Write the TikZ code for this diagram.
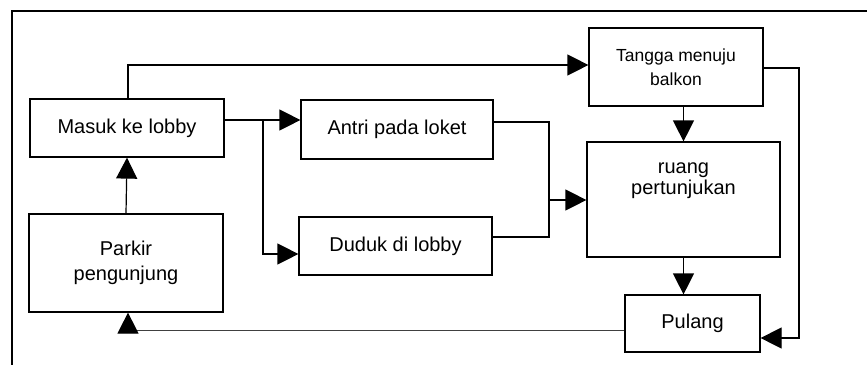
\documentclass[tikz,border=0pt]{standalone}
\usepackage{fontspec}
\setmainfont{Liberation Sans}
\usetikzlibrary{arrows.meta}
\begin{document}
\begin{tikzpicture}[x=1pt,y=-1pt,
  box/.style={draw,line width=1.2pt,inner sep=0pt,align=center,font=\fontsize{20}{25}\selectfont},
  smallbox/.style={box,font=\fontsize{17.5}{24}\selectfont},
  conn/.style={line width=1.2pt},
  arr/.style={conn,-{Triangle[length=21pt,width=21pt]}},
  faint/.style={line width=0.9pt,black!75}]
\useasboundingbox (0,0) rectangle (867,365);
\draw[line width=1.1pt] (867,11) -- (12,11) -- (12,365);
% boxes
\node[box,minimum width=194pt,minimum height=58pt] (masuk) at (127,128) {Masuk ke lobby};
\node[box,minimum width=194pt,minimum height=98pt] (parkir) at (126,263) {Parkir\\pengunjung};
\node[box,minimum width=192pt,minimum height=59pt] (antri) at (397,129.5) {Antri pada loket};
\node[box,minimum width=193pt,minimum height=58pt] (duduk) at (395.5,246) {Duduk di lobby};
\node[smallbox,minimum width=174pt,minimum height=78pt] (tangga) at (676,67) {Tangga menuju\\balkon};
\node[box,minimum width=193pt,minimum height=115pt] (ruang) at (683.5,199.5) {};
\node[font=\fontsize{20}{21}\selectfont,align=center,inner sep=0pt] (ruangtxt) at (683.5,181) {ruang\\pertunjukan};
\node[box,minimum width=135pt,minimum height=57pt] (pulang) at (692.5,323.5) {Pulang};
% junction coordinates
\coordinate (b1) at (263,120);
\coordinate (b2) at (263,254);
\coordinate (m1) at (549,122);
\coordinate (m2) at (549,237);
\coordinate (m3) at (549,200);
\coordinate (t1) at (799,68);
\coordinate (t2) at (799,338);
\coordinate (top) at (128,65);
\coordinate (bl) at (128,330);
% connectors
\draw[arr] (parkir.north) -- (masuk.south);
\draw[arr] (masuk.north -| top) -- (top) -- (tangga.west |- top);
\draw[conn] (masuk.east |- b1) -- (b1);
\draw[arr] (b1) -- (antri.west |- b1);
\draw[arr] (b1) -- (b2) -- (duduk.west |- b2);
\draw[conn] (antri.east |- m1) -- (m1) -- (m2) -- (duduk.east |- m2);
\draw[arr] (m3) -- (ruang.west |- m3);
\draw[arr] (tangga.south -| ruang.north) -- (ruang.north);
\draw[arr] (ruang.south) -- (ruang.south |- pulang.north);
\draw[arr] (tangga.east |- t1) -- (t1) -- (t2) -- (pulang.east |- t2);
\draw[faint] (pulang.west |- bl) -- (bl);
\draw[arr] (bl) -- (parkir.south -| bl);
\end{tikzpicture}
\end{document}
